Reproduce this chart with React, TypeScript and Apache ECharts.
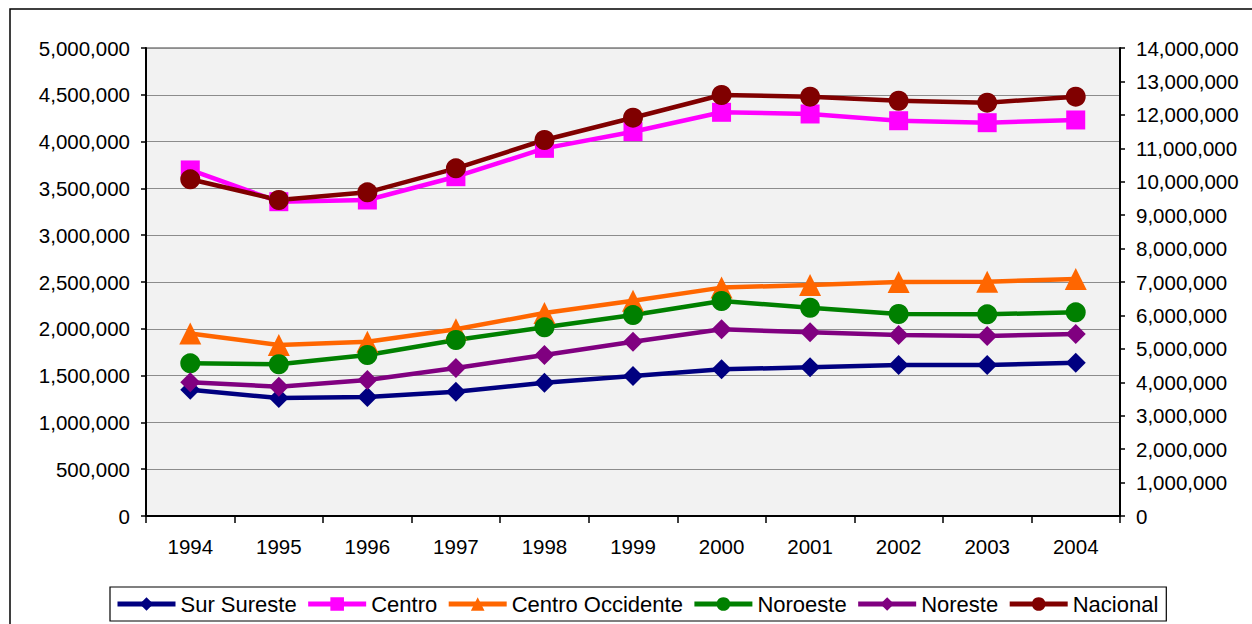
import React, { useEffect, useRef } from "react";
import * as echarts from "echarts";

const years = ["1994", "1995", "1996", "1997", "1998", "1999", "2000", "2001", "2002", "2003", "2004"];
const surSureste = [1349000, 1260000, 1271000, 1328000, 1424000, 1496000, 1567000, 1589000, 1613000, 1613000, 1638000];
const centro = [3697000, 3358000, 3376000, 3625000, 3928000, 4106000, 4313000, 4295000, 4223000, 4202000, 4231000];
const centroOccidente = [1950000, 1827000, 1862000, 1995000, 2169000, 2300000, 2440000, 2468000, 2500000, 2503000, 2532000];
const noroeste = [1631000, 1621000, 1720000, 1880000, 2016000, 2147000, 2297000, 2225000, 2158000, 2155000, 2176000];
const noreste = [1428000, 1381000, 1453000, 1581000, 1720000, 1862000, 1995000, 1963000, 1934000, 1923000, 1944000];
const nacional = [10072000, 9453000, 9683000, 10401000, 11248000, 11915000, 12594000, 12543000, 12423000, 12364000, 12543000];

const FONT = "Liberation Sans, Arial, sans-serif";
const fmt = (v: number) => Math.round(v).toLocaleString("en-US");

export default function App() {
  const ref = useRef<HTMLDivElement>(null);
  useEffect(() => {
    if (!ref.current) return;
    const chart = echarts.init(ref.current, null, { renderer: "svg" });
    const mk = (name: string, data: number[], color: string, symbol: string, size: number, yAxisIndex = 0) => ({
      name,
      type: "line",
      data,
      yAxisIndex,
      symbol,
      symbolSize: size,
      showAllSymbol: true,
      lineStyle: { color, width: 4.5 },
      itemStyle: { color, borderWidth: 0 },
      z: 2,
    });
    chart.setOption({
      animation: false,
      backgroundColor: "#ffffff",
      textStyle: { fontFamily: FONT, color: "#000" },
      graphic: [
        {
          type: "rect",
          shape: { x: 10, y: 9, width: 1400, height: 800 },
          style: { fill: "none", stroke: "#000", lineWidth: 1.5 },
          silent: true,
          z: -10,
        },
      ],
      grid: {
        left: 146,
        right: 132,
        top: 48,
        bottom: 108,
        show: true,
        backgroundColor: "#f2f2f2",
        borderColor: "#808080",
        borderWidth: 1.5,
      },
      legend: {
        left: 110,
        top: 587,
        padding: [6, 8, 6, 5],
        borderColor: "#000",
        borderWidth: 1.2,
        itemWidth: 58,
        itemHeight: 17,
        itemGap: 9,
        lineStyle: { width: 5 },
        textStyle: { fontFamily: FONT, fontSize: 22, color: "#000" },
        data: ["Sur Sureste", "Centro", "Centro Occidente", "Noroeste", "Noreste", "Nacional"],
      },
      xAxis: {
        type: "category",
        data: years,
        boundaryGap: true,
        axisLine: { lineStyle: { color: "#000", width: 2 } },
        axisTick: { show: true, length: 7, lineStyle: { color: "#000", width: 1.5 } },
        axisLabel: { fontFamily: FONT, fontSize: 20.5, color: "#000", margin: 20 },
      },
      yAxis: [
        {
          type: "value",
          min: 0,
          max: 5000000,
          interval: 500000,
          axisLine: { show: true, lineStyle: { color: "#000", width: 2 } },
          axisTick: { show: true, length: 5, lineStyle: { color: "#000", width: 1.5 } },
          splitLine: { show: true, lineStyle: { color: "#8c8c8c", width: 1.2 } },
          axisLabel: { fontFamily: FONT, fontSize: 20.5, color: "#000", margin: 16, formatter: fmt },
        },
        {
          type: "value",
          min: 0,
          max: 14000000,
          interval: 1000000,
          position: "right",
          axisLine: { show: true, lineStyle: { color: "#000", width: 2 } },
          axisTick: { show: true, length: 5, lineStyle: { color: "#000", width: 1.5 } },
          splitLine: { show: false },
          axisLabel: { fontFamily: FONT, fontSize: 20.5, color: "#000", margin: 16, formatter: fmt },
        },
      ],
      series: [
        mk("Sur Sureste", surSureste, "#000080", "diamond", 20),
        mk("Centro", centro, "#ff00ff", "rect", 19),
        mk("Centro Occidente", centroOccidente, "#ff6600", "triangle", 22),
        mk("Noroeste", noroeste, "#008000", "circle", 20),
        mk("Noreste", noreste, "#800080", "diamond", 20),
        mk("Nacional", nacional, "#800000", "circle", 20, 1),
      ],
    });
    return () => chart.dispose();
  }, []);
  return (
    <div
      ref={ref}
      style={{ position: "fixed", left: 0, top: 0, width: 1252, height: 624, background: "#fff" }}
    />
  );
}
